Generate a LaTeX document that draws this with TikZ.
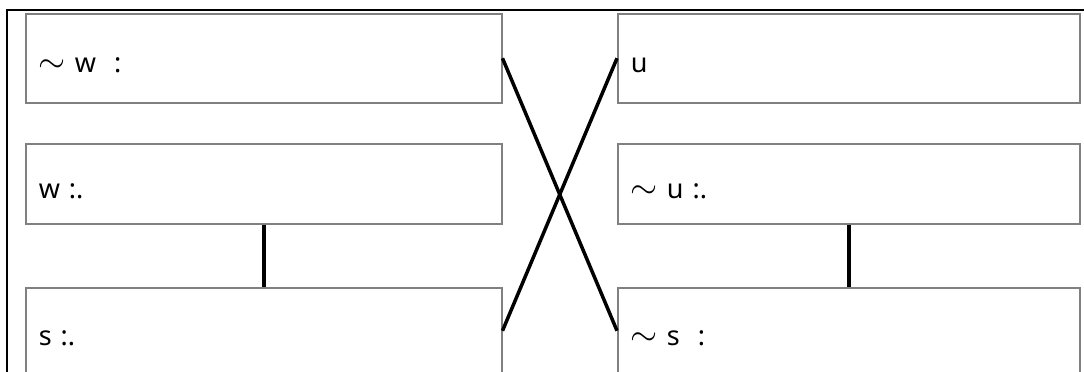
\documentclass[tikz,border=0pt]{standalone}
\usepackage{fontspec}
\setmainfont{Noto Sans}
\usetikzlibrary{positioning}
\newcommand{\negsign}{\scalebox{1.4}{$\sim$}}

\begin{document}
\begin{tikzpicture}[x=1pt, y=-1pt,
    stmt/.style={
        rectangle, draw=black!50, line width=1.5pt,
        anchor=north west,
        minimum width=476pt, minimum height=89pt,
        text width=450pt, align=left,
        inner xsep=13pt, text height=29pt, text depth=0pt,
        font=\fontsize{27}{31}\selectfont
    },
    rstmt/.style={stmt, minimum width=462pt, text width=436pt},
    link/.style={line width=3.5pt, black},
]
\useasboundingbox (0,0) rectangle (1084,372);
\clip (0,0) rectangle (1084,372);

% Cornice
\draw[line width=2pt] (7,380) -- (7,10) -- (1090,10);

% Colonna sinistra
\node[stmt] (notw) at (25,13)  {\negsign\ w\ \ :};
\node[stmt, minimum height=80pt] (w) at (25,143) {w\ :.};
\node[stmt, minimum height=86pt] (s) at (25,287) {s\ :.};

% Colonna destra
\node[rstmt] (u)    at (617,13)  {u};
\node[rstmt, minimum height=80pt] (notu) at (617,143) {\negsign\ u\ :.};
\node[rstmt, minimum height=86pt] (nots) at (617,287) {\negsign\ s\ \ :};

% Collegamenti
\draw[link] (w.south) -- (s.north);
\draw[link] (notu.south) -- (nots.north);
\draw[link] (notw.east) -- (nots.west);
\draw[link] (u.west) -- (s.east);

\end{tikzpicture}
\end{document}
